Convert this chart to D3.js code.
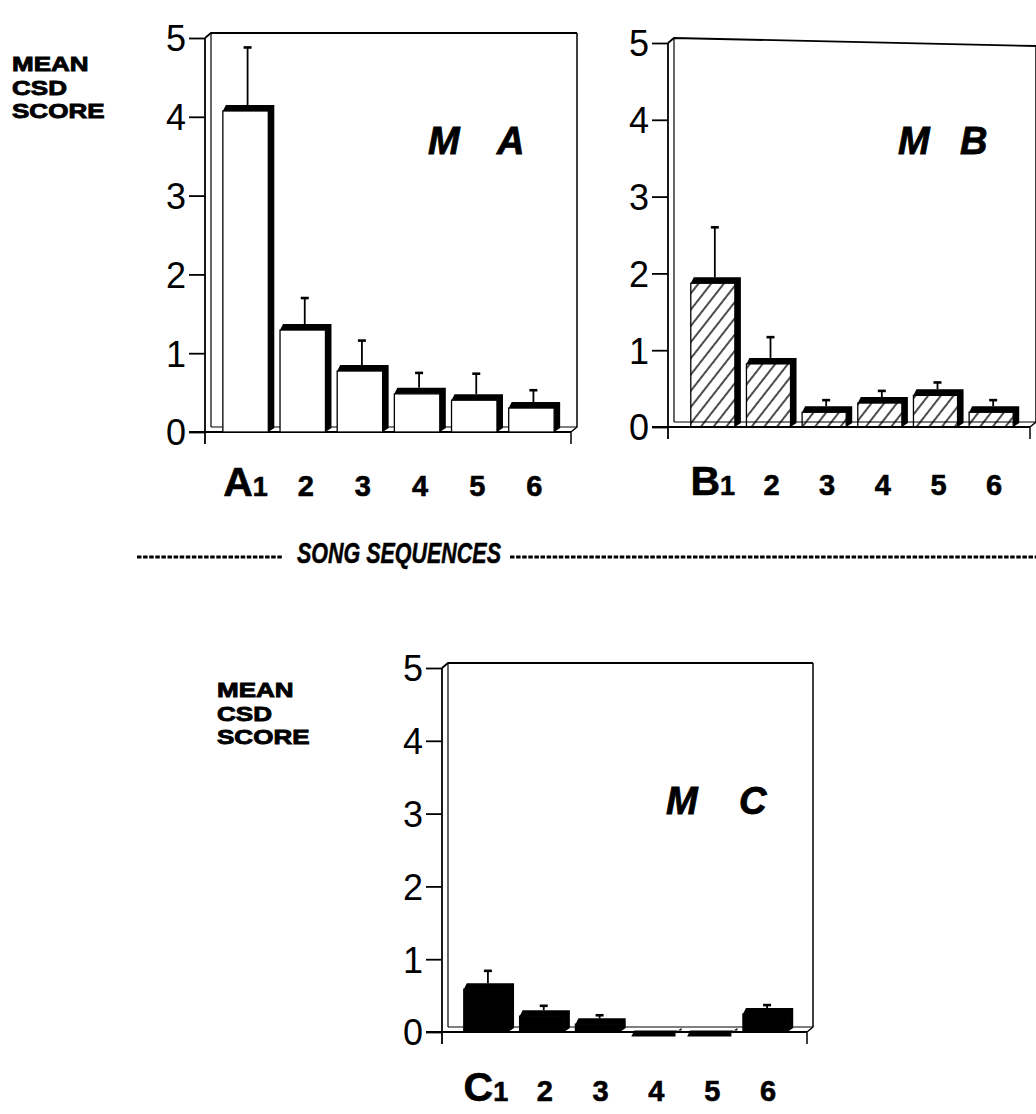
<!DOCTYPE html>
<html>
<head>
<meta charset="utf-8">
<script src="https://cdn.jsdelivr.net/npm/d3@7"></script>
<style>
  html, body { margin: 0; padding: 0; background: #fff; }
  svg { display: block; }
  text { font-family: "Liberation Sans", Arial, Helvetica, sans-serif; fill: #000; }
</style>
</head>
<body>
<svg id="chart" width="1036" height="1114"></svg>
<script>
// ---- data ----
const categories = ["1", "2", "3", "4", "5", "6"];
const yTicks = [0, 1, 2, 3, 4, 5];
const meanA = [4.15, 1.37, 0.85, 0.56, 0.48, 0.38];
const errTopA = [4.88, 1.70, 1.16, 0.75, 0.74, 0.53];
const meanB = [1.95, 0.90, 0.27, 0.39, 0.49, 0.27];
const errTopB = [2.60, 1.17, 0.35, 0.47, 0.58, 0.35];
const meanC = [0.67, 0.30, 0.19, 0.02, 0.02, 0.33];
const errTopC = [0.84, 0.36, 0.23, 0.02, 0.02, 0.37];
const yAxisTitle = ["MEAN", "CSD", "SCORE"];
const xAxisTitle = "SONG SEQUENCES";

const svg = d3.select("#chart");
const defs = svg.append("defs");
defs.append("pattern")
  .attr("id", "hatch")
  .attr("patternUnits", "userSpaceOnUse")
  .attr("width", 10).attr("height", 10)
  .attr("patternTransform", "rotate(38)")
  .append("line")
  .attr("x1", 5).attr("y1", -2).attr("x2", 5).attr("y2", 12)
  .attr("stroke", "#000").attr("stroke-width", 1.4);

function drawPanel(cfg) {
  const g = svg.append("g");
  const y = d3.scaleLinear().domain([0, 5]).range([cfg.y0, cfg.y5]);
  const x = d3.scaleBand().domain(categories).range(cfg.xRange)
    .paddingInner(0.1).paddingOuter(0.05);
  const dx = 6, dy = 6;
  const ax = cfg.axisX, fr = cfg.frameRight;
  const base = y(0);
  const topL = y(5) - 5 + cfg.topSkewL, topR = y(5) - 5 + cfg.topSkewR;

  // frame (3D box)
  const frame = g.append("g").attr("fill", "none").attr("stroke", "#000");
  frame.append("line").attr("x1", ax).attr("y1", y(5)).attr("x2", ax).attr("y2", base + 12).attr("stroke-width", 1.8);
  frame.append("line").attr("x1", ax + dx).attr("y1", topL).attr("x2", ax + dx).attr("y2", base - 5).attr("stroke-width", 1.2);
  frame.append("path").attr("d", `M${ax},${y(5)}L${ax + dx},${topL}L${fr},${topR}`).attr("stroke-width", 1.8);
  frame.append("path").attr("d", `M${fr},${topR}L${fr},${base - 5}L${fr - dx},${base}L${fr - dx},${base + 12}`).attr("stroke-width", 1.5);
  frame.append("line").attr("x1", ax - 16).attr("y1", base).attr("x2", fr - dx).attr("y2", base).attr("stroke-width", 2.2);
  frame.append("line").attr("x1", ax + dx).attr("y1", base - 5).attr("x2", fr).attr("y2", base - 5).attr("stroke-width", 1.2);

  // y axis ticks + labels
  const axis = d3.axisLeft(y).tickValues(yTicks).tickSize(16).tickPadding(3).tickFormat(d3.format("d"));
  const ag = g.append("g").attr("transform", `translate(${ax},0)`).call(axis);
  ag.select(".domain").remove();
  ag.selectAll(".tick line").attr("stroke", "#000").attr("stroke-width", 1.8);
  ag.selectAll(".tick text")
    .attr("font-size", 36).attr("font-family", "Liberation Sans, Arial, sans-serif")
    .attr("fill", "#000").attr("dy", "0.36em");

  // bars
  const data = cfg.mean.map((v, i) => ({ cat: categories[i], v, e: cfg.err[i] }));
  const bw = x.bandwidth();
  const bars = g.append("g").selectAll("g").data(data).join("g");
  // error bars
  bars.append("line")
    .attr("x1", d => x(d.cat) + (bw - dx) / 2 + 2).attr("x2", d => x(d.cat) + (bw - dx) / 2 + 2)
    .attr("y1", d => y(d.v)).attr("y2", d => y(d.e))
    .attr("stroke", "#000").attr("stroke-width", 1.8);
  bars.append("line")
    .attr("x1", d => x(d.cat) + (bw - dx) / 2 - 2).attr("x2", d => x(d.cat) + (bw - dx) / 2 + 6)
    .attr("y1", d => y(d.e)).attr("y2", d => y(d.e))
    .attr("stroke", "#000").attr("stroke-width", 2.6)
    .attr("display", d => d.e > d.v ? null : "none");
  // front face
  bars.append("rect")
    .attr("x", d => x(d.cat))
    .attr("y", d => Math.min(y(d.v) + dy, base))
    .attr("width", bw - dx)
    .attr("height", d => Math.max(base - y(d.v) - dy, 0))
    .attr("fill", cfg.fill)
    .attr("stroke", "#000").attr("stroke-width", 1.3);
  // top + side (3D extrusion)
  bars.append("path")
    .attr("d", d => {
      const x0 = x(d.cat), x1 = x0 + bw - dx, yt = y(d.v);
      return `M${x0},${yt + dy}L${x0 + 3},${yt}L${x1 + dx},${yt}L${x1 + dx},${base - 4}L${x1},${base}L${x1},${yt + dy}Z`;
    })
    .attr("fill", "#000");

  // category labels
  const lab = g.append("g").selectAll("text").data(categories).join("text")
    .attr("x", d => x(d) + (bw - dx) / 2 + (d === "1" ? 0 : 3))
    .attr("y", base + cfg.labelOffset)
    .attr("text-anchor", "middle")
    .attr("font-weight", "bold")
    .attr("stroke", "#000").attr("stroke-width", 0.6);
  lab.each(function (d) {
    const t = d3.select(this);
    if (d === "1") {
      t.append("tspan").attr("font-size", 41).text(cfg.letter);
      t.append("tspan").attr("font-size", 27).text("1");
    } else {
      t.attr("font-size", 29).text(d);
    }
  });

  // panel title "M  X"
  const tt = g.append("g").attr("font-weight", "bold").attr("font-style", "italic").attr("font-size", 38)
    .attr("stroke", "#000").attr("stroke-width", 0.8);
  tt.append("text").attr("x", cfg.titleX).attr("y", cfg.titleY).text("M");
  tt.append("text").attr("x", cfg.titleX + cfg.titleGap).attr("y", cfg.titleY).text(cfg.letter);
}

drawPanel({ letter: "A", mean: meanA, err: errTopA, fill: "#fff",
  axisX: 205, frameRight: 577, y0: 432, y5: 38, xRange: [220, 563],
  topSkewL: 0, topSkewR: 0, labelOffset: 64, titleX: 428, titleY: 154, titleGap: 69 });
drawPanel({ letter: "B", mean: meanB, err: errTopB, fill: "url(#hatch)",
  axisX: 668, frameRight: 1036, y0: 427, y5: 43, xRange: [688, 1022],
  topSkewL: 0, topSkewR: 8, labelOffset: 68, titleX: 898, titleY: 154, titleGap: 62 });
drawPanel({ letter: "C", mean: meanC, err: errTopC, fill: "#000",
  axisX: 442, frameRight: 813, y0: 1032, y5: 668, xRange: [461, 796],
  topSkewL: 0, topSkewR: 0, labelOffset: 69, titleX: 666, titleY: 814, titleGap: 73 });

// y-axis titles (three stacked lines)
function yTitle(xp, yp) {
  const sx = 1.24;
  const t = svg.append("g")
    .attr("transform", `translate(${xp},${yp}) scale(${sx},1)`)
    .attr("font-weight", "bold").attr("font-size", 21)
    .attr("stroke", "#000").attr("stroke-width", 0.9);
  t.selectAll("text").data(yAxisTitle).join("text")
    .attr("x", 0).attr("y", (d, i) => i * 23.6).text(d => d);
}
yTitle(12, 71);
yTitle(217, 697);

// x-axis title with dashed rules
const xt = svg.append("g");
xt.append("text").attr("x", 297).attr("y", 563)
  .attr("font-weight", "bold").attr("font-style", "italic").attr("font-size", 30)
  .attr("stroke", "#000").attr("stroke-width", 0.5)
  .attr("textLength", 204).attr("lengthAdjust", "spacingAndGlyphs")
  .text(xAxisTitle);
xt.append("line").attr("x1", 137).attr("x2", 282).attr("y1", 557).attr("y2", 557)
  .attr("stroke", "#000").attr("stroke-width", 3).attr("stroke-dasharray", "4.5,1.6");
xt.append("line").attr("x1", 510).attr("x2", 1036).attr("y1", 557).attr("y2", 557)
  .attr("stroke", "#000").attr("stroke-width", 3).attr("stroke-dasharray", "4.5,1.6");
</script>
</body>
</html>
